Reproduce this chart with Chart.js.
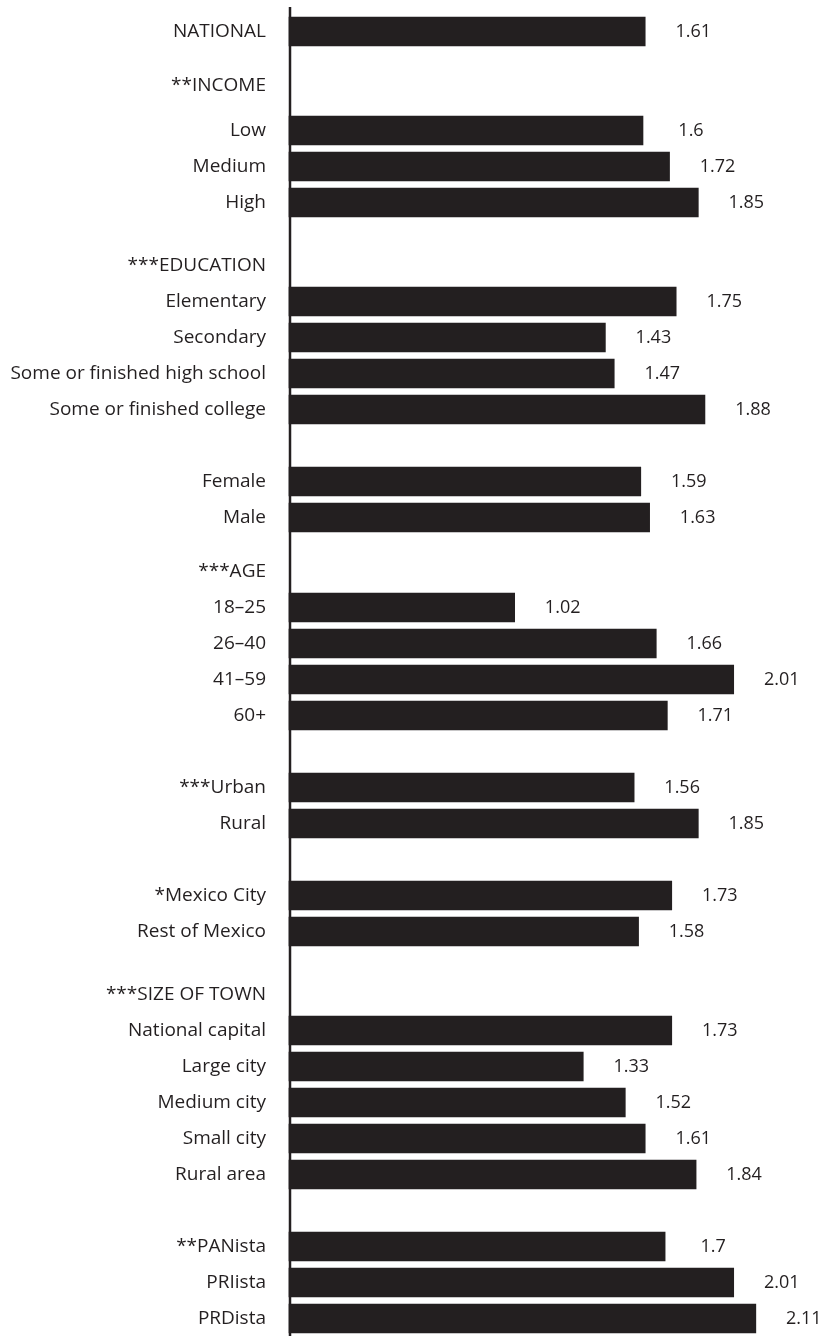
<!DOCTYPE html>
<html>
<head>
<meta charset="utf-8">
<script src="https://cdn.jsdelivr.net/npm/chart.js@4.4.0/dist/chart.umd.min.js"></script>
<style>
  html, body { margin: 0; padding: 0; background: #fff; }
  #wrap { width: 824px; height: 1336px; }
</style>
</head>
<body>
<div id="wrap"><canvas id="chart"></canvas></div>
<script>
const rowLabels = [
  'NATIONAL',
  '**INCOME', 'Low', 'Medium', 'High',
  '***EDUCATION', 'Elementary', 'Secondary', 'Some or finished high school', 'Some or finished college',
  'Female', 'Male',
  '***AGE', '18–25', '26–40', '41–59', '60+',
  '***Urban', 'Rural',
  '*Mexico City', 'Rest of Mexico',
  '***SIZE OF TOWN', 'National capital', 'Large city', 'Medium city', 'Small city', 'Rural area',
  '**PANista', 'PRIista', 'PRDista'
];
const rowValues = [
  1.61,
  null, 1.6, 1.72, 1.85,
  null, 1.75, 1.43, 1.47, 1.88,
  1.59, 1.63,
  null, 1.02, 1.66, 2.01, 1.71,
  1.56, 1.85,
  1.73, 1.58,
  null, 1.73, 1.33, 1.52, 1.61, 1.84,
  1.7, 2.01, 2.11
];
// layout only: distance from the row above, in quarter rows
const rowSteps = [
  0,
  6, 5, 4, 4,
  7, 4, 4, 4, 4,
  8, 4,
  6, 4, 4, 4, 4,
  8, 4,
  8, 4,
  7, 4, 4, 4, 4, 4,
  8, 4, 4
];

const ink = '#231f20';
const fontFamily = "'Open Sans', sans-serif";

// spread the rows over quarter-row slots, blank slots in between
const categories = [];
const values = [];
rowLabels.forEach((label, i) => {
  for (let k = 1; k < rowSteps[i]; k++) {
    categories.push('');
    values.push(null);
  }
  categories.push(label);
  values.push(rowValues[i]);
});

const axisLine = {
  id: 'axisLine',
  beforeDatasetsDraw(chart) {
    const ctx = chart.ctx;
    const x = chart.scales.x.getPixelForValue(0);
    ctx.save();
    ctx.strokeStyle = ink;
    ctx.lineWidth = 2.5;
    ctx.beginPath();
    ctx.moveTo(x + 1, 7);
    ctx.lineTo(x + 1, chart.height);
    ctx.stroke();
    ctx.restore();
  }
};

const valueLabels = {
  id: 'valueLabels',
  afterDatasetsDraw(chart) {
    const ctx = chart.ctx;
    const meta = chart.getDatasetMeta(0);
    ctx.save();
    ctx.fillStyle = ink;
    ctx.font = '18px ' + fontFamily;
    ctx.textAlign = 'center';
    ctx.textBaseline = 'middle';
    meta.data.forEach((bar, i) => {
      if (values[i] == null) return;
      ctx.fillText(String(values[i]), bar.x + 48, bar.y);
    });
    ctx.restore();
  }
};

new Chart(document.getElementById('chart'), {
  type: 'bar',
  data: {
    labels: categories,
    datasets: [{
      data: values,
      backgroundColor: ink,
      borderWidth: 0,
      barThickness: 29,
      clip: false
    }]
  },
  options: {
    indexAxis: 'y',
    responsive: true,
    maintainAspectRatio: false,
    animation: false,
    layout: { padding: { top: 27, bottom: 13, left: 0, right: 4 } },
    plugins: {
      legend: { display: false },
      tooltip: { enabled: false }
    },
    scales: {
      x: { display: false, min: 0, max: 2.4 },
      y: {
        afterFit(scale) {
          scale.width = 289;
          scale.paddingTop = 0;
          scale.paddingBottom = 0;
        },
        grid: { display: false, drawTicks: false },
        border: { display: false },
        ticks: {
          autoSkip: false,
          padding: 23,
          color: ink,
          font: { family: fontFamily, size: 19 }
        }
      }
    }
  },
  plugins: [axisLine, valueLabels]
});
</script>
</body>
</html>
